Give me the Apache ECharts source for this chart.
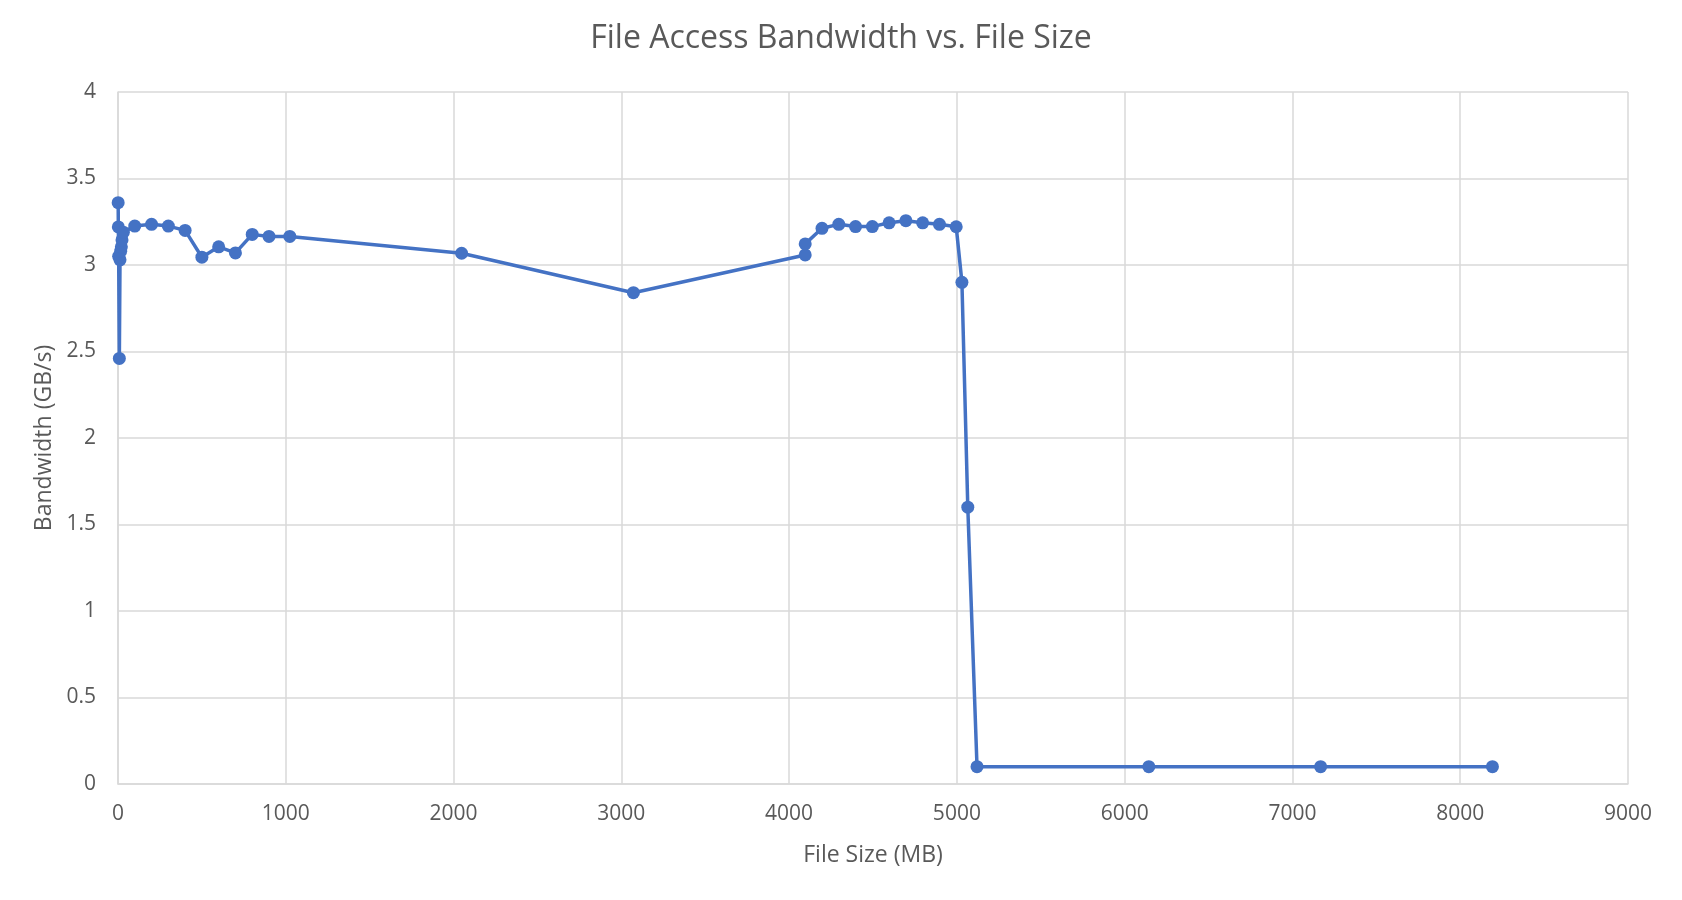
<!DOCTYPE html>
<html>
<head>
<meta charset="utf-8">
<title>File Access Bandwidth vs. File Size</title>
<script src="https://cdn.jsdelivr.net/npm/echarts@6/dist/echarts.min.js"></script>
<style>
  html, body { margin: 0; padding: 0; background: #fff; }
  #chart { width: 1682px; height: 900px; }
</style>
</head>
<body>
<div id="chart"></div>
<script>
// file sizes in MB
const fileSizes = [
  1, 2, 4, 8, 12, 16, 20, 24, 32,
  100, 200, 300, 400, 500, 600, 700, 800, 900, 1024,
  2048, 3072,
  4096, 4096, 4196, 4296, 4396, 4496, 4596, 4696, 4796, 4896, 4996,
  5030, 5065, 5120, 6144, 7168, 8192
];
// bandwidth in GB/s
const bandwidth = [
  3.36, 3.22, 3.05, 2.46, 3.03, 3.08, 3.105, 3.145, 3.19,
  3.225, 3.235, 3.225, 3.20, 3.045, 3.105, 3.07, 3.177, 3.165, 3.165,
  3.068, 2.84,
  3.058, 3.122, 3.212, 3.235, 3.222, 3.222, 3.244, 3.256, 3.244, 3.235, 3.221,
  2.90, 1.60, 0.10, 0.10, 0.10, 0.10
];
const xTicks = [0, 9000, 1000];
const yTicks = [0, 4, 0.5];

const textColor = "#595959";
const gridColor = "#d9d9d9";
const font = "Open Sans";

const chart = echarts.init(document.getElementById("chart"));

const option = {
  animation: false,
  title: {
    text: "File Access Bandwidth vs. File Size",
    left: "center",
    top: 18,
    textStyle: {
      color: textColor,
      fontFamily: font,
      fontSize: 32,
      fontWeight: "normal",
    },
  },
  grid: {
    left: 118,
    right: 54,
    top: 92,
    bottom: 116,
  },
  xAxis: {
    type: "value",
    min: xTicks[0],
    max: xTicks[1],
    interval: xTicks[2],
    name: "File Size (MB)",
    nameLocation: "middle",
    nameGap: 60,
    nameTextStyle: { color: textColor, fontFamily: font, fontSize: 23 },
    axisLine: { lineStyle: { color: gridColor, width: 1.5 } },
    axisTick: { show: false },
    axisLabel: {
      color: textColor,
      fontFamily: font,
      fontSize: 21,
      margin: 20,
      formatter: (v) => String(v),
    },
    splitLine: { lineStyle: { color: gridColor, width: 1.5 } },
  },
  yAxis: {
    type: "value",
    min: yTicks[0],
    max: yTicks[1],
    interval: yTicks[2],
    name: "Bandwidth (GB/s)",
    nameLocation: "middle",
    nameGap: 62,
    nameTextStyle: { color: textColor, fontFamily: font, fontSize: 23 },
    axisLine: { show: true, lineStyle: { color: gridColor, width: 1.5 } },
    axisTick: { show: false },
    axisLabel: { color: textColor, fontFamily: font, fontSize: 21, margin: 22 },
    splitLine: { lineStyle: { color: gridColor, width: 1.5 } },
  },
  series: [
    {
      name: "Bandwidth",
      type: "line",
      data: fileSizes.map((s, i) => [s, bandwidth[i]]),
      symbol: "circle",
      symbolSize: 13,
      itemStyle: { color: "#4472C4" },
      lineStyle: { color: "#4472C4", width: 3.5 },
    },
  ],
};

chart.setOption(option);
</script>
</body>
</html>
